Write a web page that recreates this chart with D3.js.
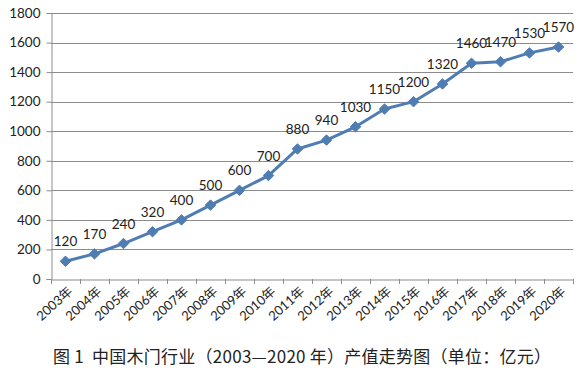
<!DOCTYPE html>
<html><head><meta charset="utf-8">
<script src="https://cdn.jsdelivr.net/npm/d3@7"></script>
<style>body{margin:0;background:#fff}svg{display:block}</style>
</head><body>
<svg id="c" width="584" height="379"></svg>
<script>
const years = ["2003年","2004年","2005年","2006年","2007年","2008年","2009年","2010年","2011年","2012年","2013年","2014年","2015年","2016年","2017年","2018年","2019年","2020年"];
const values = [120,170,240,320,400,500,600,700,880,940,1030,1150,1200,1320,1460,1470,1530,1570];
const yTicks = [0,200,400,600,800,1000,1200,1400,1600,1800];
const caption = "图 1  中国木门行业（2003—2020 年）产值走势图（单位：亿元）";

const svg = d3.select("#c");
const m = {l:51, r:573, t:13, b:279};
const x = d3.scaleBand().domain(years).range([m.l, m.r]);
const y = d3.scaleLinear().domain([0,1800]).range([m.b, m.t]);
const numFont = "Lato, 'Noto Sans CJK SC', sans-serif";
const gridCol = "#8c8c8c";

// gridlines
svg.append("g").selectAll("line").data(yTicks.filter(d=>d>0)).join("line")
  .attr("x1", m.l).attr("x2", m.r).attr("y1", d=>Math.round(y(d))+0.5).attr("y2", d=>Math.round(y(d))+0.5)
  .attr("stroke", gridCol).attr("stroke-width",1);

// y axis
const ya = svg.append("g").attr("transform",`translate(${m.l+0.5},0)`)
  .call(d3.axisLeft(y).tickValues(yTicks).tickFormat(d3.format("d")).tickSize(5).tickPadding(6));
ya.select(".domain").attr("stroke", gridCol);
ya.selectAll(".tick line").attr("stroke", gridCol);
ya.selectAll("text").attr("font-family", numFont).attr("font-size", 13.5).attr("fill","#222");

// x axis
const xa = svg.append("g").attr("transform",`translate(0,${m.b+0.5})`)
  .call(d3.axisBottom(x).tickSize(0).tickSizeOuter(0));
xa.select(".domain").attr("stroke", gridCol);
xa.selectAll(".tick line").remove();
const bounds = years.map(d=>x(d)).concat([m.r]);
svg.append("g").selectAll("line").data(bounds).join("line")
  .attr("x1", d=>Math.round(d)+0.5).attr("x2", d=>Math.round(d)+0.5)
  .attr("y1", m.b).attr("y2", m.b+5).attr("stroke", gridCol);
xa.selectAll(".tick text")
  .attr("font-family", numFont).attr("font-size", 13).attr("fill","#222")
  .attr("text-anchor","end").attr("dy", 0).attr("y", 0)
  .attr("transform", "translate(8,13) rotate(-42)");

// line
const cx = d => x(d) + x.bandwidth()/2;
const pts = years.map((d,i)=>({k:d, v:values[i]}));
svg.append("path").datum(pts)
  .attr("d", d3.line().x(d=>cx(d.k)).y(d=>y(d.v)))
  .attr("fill","none").attr("stroke","#4F7CB3").attr("stroke-width",3).attr("stroke-linejoin","round");

// markers
svg.append("g").selectAll("path").data(pts).join("path")
  .attr("d", d3.symbol(d3.symbolDiamond2, 70))
  .attr("transform", d=>`translate(${cx(d.k)},${y(d.v)})`)
  .attr("fill","#4F7CB3").attr("stroke","#4F7CB3");

// labels
svg.append("g").selectAll("text").data(pts).join("text")
  .attr("x", d=>cx(d.k)).attr("y", d=>y(d.v)-15)
  .attr("text-anchor","middle").attr("font-family", numFont).attr("font-size",13.5).attr("fill","#222")
  .text(d=>d.v);

// caption
svg.append("text").attr("x", 53).attr("y", 363)
  .attr("font-family","'Noto Sans CJK SC', sans-serif").attr("font-size",17).attr("fill","#222")
  .attr("letter-spacing", 0.25)
  .style("white-space","pre")
  .text(caption);
</script>
</body></html>
